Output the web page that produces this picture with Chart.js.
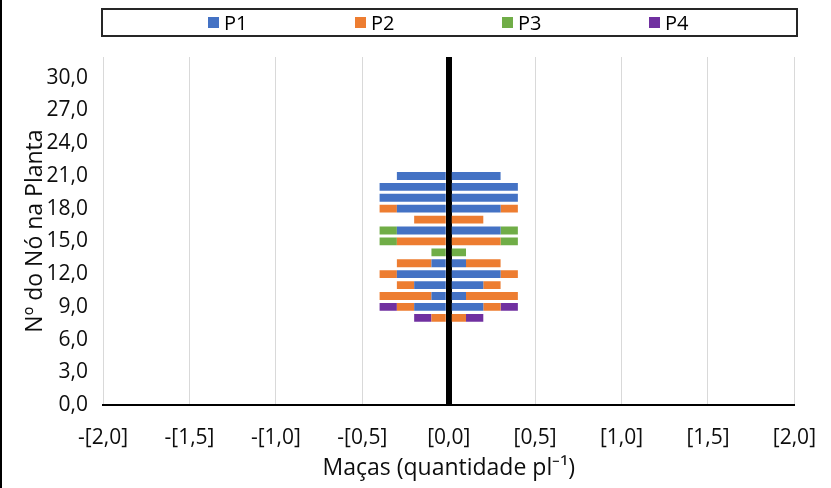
<!DOCTYPE html>
<html>
<head>
<meta charset="utf-8">
<script src="https://cdn.jsdelivr.net/npm/chart.js@4.4.1/dist/chart.umd.min.js"></script>
<style>
  html, body { margin: 0; padding: 0; background: #fff; }
  #wrap { position: relative; width: 831px; height: 488px; border-left: 2px solid #000; box-sizing: border-box; font-family: 'Open Sans', sans-serif; }
  #chartBox { position: absolute; left: 0; top: 0; width: 829px; height: 488px; }
  #legend { position: absolute; left: 99px; top: 8px; width: 697px; height: 29px; border: 2px solid #262626; box-sizing: border-box; padding-left: 105px; display: flex; align-items: center; }
  .item { width: 151px; display: flex; align-items: center; font-size: 20px; color: #000; }
  .box { width: 11px; height: 11px; margin-right: 5px; }
</style>
</head>
<body>
<div id="wrap">
  <div id="chartBox"><canvas id="chart"></canvas></div>
  <div id="legend"></div>
</div>
<script>
// nodes on the plant (top to bottom) and apples per node for each picking
const nodes = [21, 20, 19, 18, 17, 16, 15, 14, 13, 12, 11, 10, 9, 8];
const p1 = [0.3, 0.4, 0.4, 0.3, 0, 0.3, 0, 0, 0.1, 0.3, 0.2, 0.1, 0.2, 0];
const p2 = [0, 0, 0, 0.1, 0.2, 0, 0.3, 0, 0.2, 0.1, 0.1, 0.3, 0.1, 0.1];
const p3 = [0, 0, 0, 0, 0, 0.1, 0.1, 0.1, 0, 0, 0, 0, 0, 0];
const p4 = [0, 0, 0, 0, 0, 0, 0, 0, 0, 0, 0, 0, 0.1, 0.1];

const seriesNames = ['P1', 'P2', 'P3', 'P4'];
const seriesValues = [p1, p2, p3, p4];
const colors = ['#4472C4', '#ED7D31', '#70AD47', '#7030A0'];

const xTicks = [-2, -1.5, -1, -0.5, 0, 0.5, 1, 1.5, 2];
const yTicks = [0, 3, 6, 9, 12, 15, 18, 21, 24, 27, 30];

const fmt = v => Math.abs(v).toFixed(1).replace('.', ',');

// each series is drawn twice, mirrored on both sides of zero
const datasets = [];
seriesValues.forEach((vals, s) => {
    [1, -1].forEach(side => {
        datasets.push({
            label: seriesNames[s],
            data: nodes.map((n, i) => ({ x: vals[i] ? side * vals[i] : null, y: n })),
            backgroundColor: colors[s],
            borderWidth: 0,
            stack: 'all'
        });
    });
});

// html legend with a frame like the original
const legend = document.getElementById('legend');
seriesNames.forEach((name, i) => {
    const item = document.createElement('div');
    item.className = 'item';
    item.innerHTML = '<span class="box" style="background:' + colors[i] + '"></span>' + name;
    legend.appendChild(item);
});

const txt = '#0d0d0d';
const fontFam = "'Open Sans', sans-serif";

new Chart(document.getElementById('chart'), {
    type: 'bar',
    data: { datasets: datasets },
    options: {
        indexAxis: 'y',
        responsive: true,
        maintainAspectRatio: false,
        animation: false,
        layout: { padding: { top: 57, left: 4, right: 30, bottom: 6 } },
        plugins: {
            legend: { display: false },
            tooltip: { enabled: false }
        },
        barPercentage: 0.9,
        categoryPercentage: 0.8,
        scales: {
            x: {
                type: 'linear',
                min: -2,
                max: 2,
                z: 1,
                afterBuildTicks: scale => { scale.ticks = xTicks.map(v => ({ value: v })); },
                ticks: {
                    color: txt,
                    font: { family: fontFam, size: 21, lineHeight: 1.68 },
                    padding: 15,
                    callback: v => (v < 0 ? '-[' + fmt(v) + ']' : '[' + fmt(v) + ']')
                },
                grid: {
                    drawTicks: false,
                    color: ctx => (ctx.tick && ctx.tick.value === 0 ? '#000' : '#d9d9d9'),
                    lineWidth: ctx => (ctx.tick && ctx.tick.value === 0 ? 6 : 1)
                },
                border: { display: true, color: '#000', width: 2 },
                title: {
                    display: true,
                    text: 'Maças (quantidade pl⁻¹)',
                    color: txt,
                    font: { family: fontFam, size: 23 },
                    padding: { top: -16, bottom: 0 }
                }
            },
            y: {
                type: 'linear',
                min: 0,
                max: 31.9,
                offset: false,
                afterBuildTicks: scale => { scale.ticks = yTicks.map(v => ({ value: v })); },
                ticks: {
                    color: txt,
                    font: { family: fontFam, size: 21 },
                    padding: 15,
                    callback: v => fmt(v)
                },
                grid: { display: false, drawTicks: false },
                border: { display: false },
                title: {
                    display: true,
                    text: 'Nº do Nó na Planta',
                    color: txt,
                    font: { family: fontFam, size: 23 },
                    padding: { top: 16, bottom: -18 }
                }
            }
        }
    }
});
</script>
</body>
</html>
